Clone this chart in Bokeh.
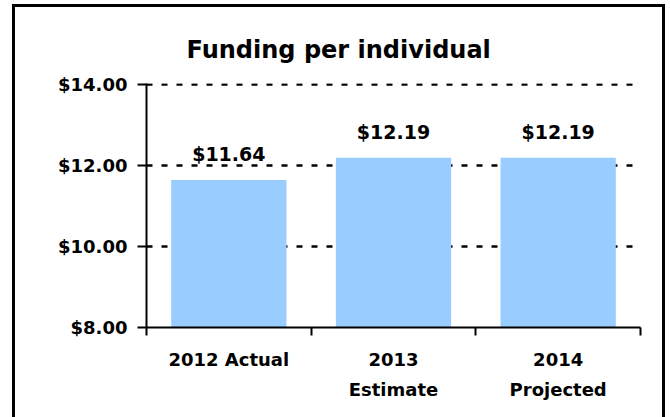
from bokeh.plotting import figure
from bokeh.models import (ColumnDataSource, LabelSet, FixedTicker, Title,
                          NumeralTickFormatter, Range1d)
from bokeh.core.properties import value
from bokeh.embed import file_html
from bokeh.resources import INLINE

# ---- data ----
categories = ["2012 Actual", "2013\nEstimate", "2014\nProjected"]
values = [11.64, 12.19, 12.19]
value_labels = ["$11.64", "$12.19", "$12.19"]
y_ticks = [8, 10, 12, 14]
title_text = "Funding per individual"

FONT = "DejaVu Sans"
BAR = "#99CCFF"

xs = [i + 0.5 for i in range(len(categories))]
src = ColumnDataSource(dict(x=xs, top=values, lab=value_labels))

p = figure(width=653, height=413, output_backend="svg", toolbar_location=None,
           x_range=Range1d(0, len(categories)), y_range=Range1d(8, 14.02),
           min_border_left=131, min_border_right=28, min_border_top=76,
           min_border_bottom=93, outline_line_color=None)
p.styles = {"border": "3px solid black", "border-bottom": "none",
            "margin-left": "12px", "margin-top": "4px"}

p.title = Title(text=title_text, align="left", offset=40, standoff=40,
                text_font=FONT, text_font_size="24px",
                text_font_style="bold", text_color="black")

p.vbar(x="x", top="top", bottom=8, width=0.7, source=src,
       fill_color=BAR, line_color=None)

p.add_layout(LabelSet(x="x", y="top", text="lab", source=src, y_offset=19,
                      text_align="center", text_baseline="alphabetic",
                      text_font=value(FONT), text_font_size="19px",
                      text_font_style="bold", text_color="black"))

# y axis
ya = p.yaxis[0]
ya.ticker = FixedTicker(ticks=y_ticks)
ya.formatter = NumeralTickFormatter(format="$0.00")
ya.major_label_text_font = FONT
ya.major_label_text_font_size = "18px"
ya.major_label_text_font_style = "bold"
ya.major_label_text_color = "black"
ya.major_tick_out = 9
ya.major_tick_in = 0
ya.minor_tick_line_color = None
ya.axis_line_width = 2
ya.major_tick_line_width = 2
ya.axis_line_color = "black"
ya.major_tick_line_color = "black"
ya.major_label_standoff = 10

# x axis
xa = p.xaxis[0]
xa.ticker = FixedTicker(ticks=xs, minor_ticks=list(range(len(categories) + 1)))
xa.major_label_overrides = {x: c for x, c in zip(xs, categories)}
xa.major_tick_out = 0
xa.major_tick_in = 0
xa.minor_tick_out = 8
xa.minor_tick_in = 0
xa.minor_tick_line_width = 2
xa.minor_tick_line_color = "black"
xa.axis_line_width = 2
xa.axis_line_color = "black"
xa.major_label_text_font = FONT
xa.major_label_text_font_size = "18px"
xa.major_label_text_font_style = "bold"
xa.major_label_text_color = "black"
xa.major_label_text_line_height = 1.44
xa.major_label_standoff = 13

p.xgrid.grid_line_color = None
p.ygrid.ticker = FixedTicker(ticks=[10, 12, 14])
p.ygrid.grid_line_color = "black"
p.ygrid.grid_line_width = 2.5
p.ygrid.grid_line_dash = "6 9"

open("out.html", "w").write(file_html(p, INLINE))
